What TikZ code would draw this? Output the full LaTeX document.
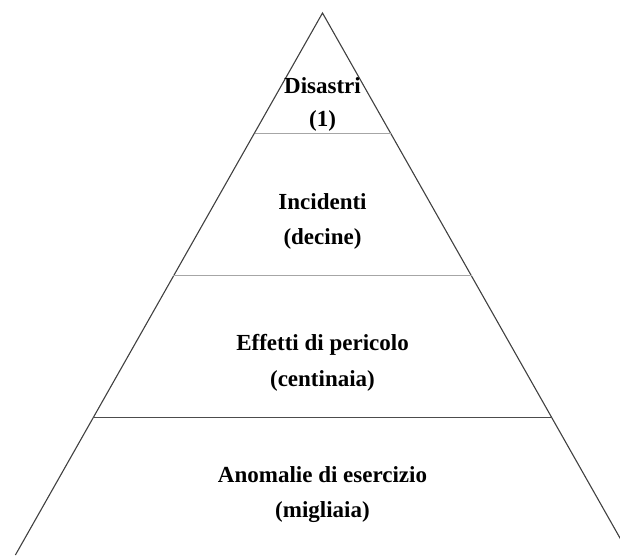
\documentclass[tikz,border=0pt]{standalone}
\usepackage{fontspec}
\setmainfont{Liberation Serif}
\usetikzlibrary{calc}
\begin{document}
\begin{tikzpicture}[x=1pt,y=-1pt,
  side/.style={draw=black!75, line width=1.1pt},
  lightrule/.style={draw=black!35, line width=1pt},
  darkrule/.style={draw=black!70, line width=1pt},
  tiertext/.style={font=\fontsize{23}{28}\selectfont\bfseries, anchor=base, inner sep=0pt}]
\useasboundingbox (0,0) rectangle (620,555);
% pyramid outline
\coordinate (apex) at (322.5,13);
\coordinate (bl) at (15.4,555);
\coordinate (br) at (629.6,555);
\draw[side] (bl) -- (apex) -- (br);
% tier boundaries
\coordinate (r1l) at ($(apex)!0.2214!(bl)$);
\coordinate (r1r) at ($(apex)!0.2214!(br)$);
\coordinate (r2l) at ($(apex)!0.4852!(bl)$);
\coordinate (r2r) at ($(apex)!0.4852!(br)$);
\coordinate (r3l) at ($(apex)!0.7472!(bl)$);
\coordinate (r3r) at ($(apex)!0.7472!(br)$);
\draw[lightrule] (r1l) -- (r1r);
\draw[lightrule] (r2l) -- (r2r);
\draw[darkrule] (r3l) -- (r3r);
% tier labels
\node[tiertext] (t1a) at (322.5,93) {Disastri};
\node[tiertext] (t1b) at (322.5,126) {(1)};
\node[tiertext] (t2a) at (322.5,209) {Incidenti};
\node[tiertext] (t2b) at (322.5,244) {(decine)};
\node[tiertext] (t3a) at (322.5,350) {Effetti di pericolo};
\node[tiertext] (t3b) at (322.5,386) {(centinaia)};
\node[tiertext] (t4a) at (322.5,482) {Anomalie di esercizio};
\node[tiertext] (t4b) at (322.5,517) {(migliaia)};
\end{tikzpicture}
\end{document}
